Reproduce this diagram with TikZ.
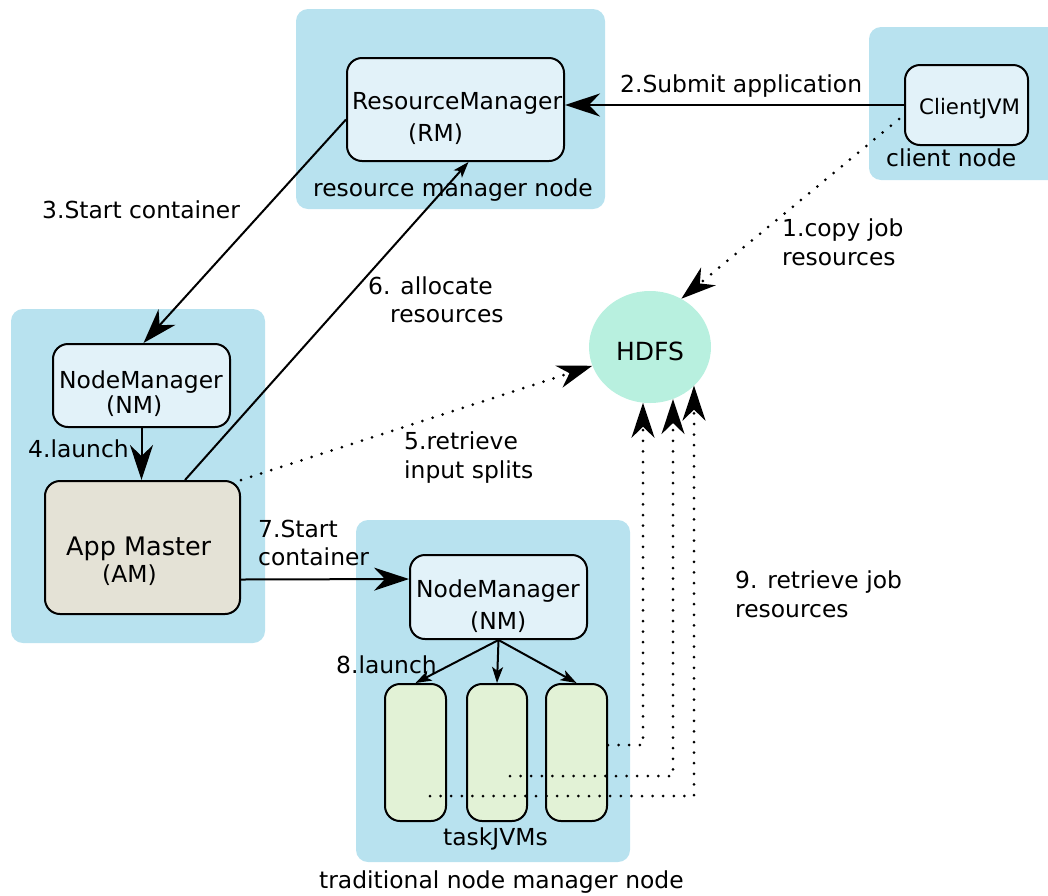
\documentclass[tikz,border=0pt]{standalone}
\usepackage{fontspec}
\setmainfont{DejaVu Sans}
\usetikzlibrary{arrows.meta,shapes.geometric,calc}
\definecolor{zoneblue}{RGB}{184,226,239}
\definecolor{mgrfill}{RGB}{226,242,249}
\definecolor{hdfsfill}{RGB}{184,240,223}
\definecolor{amfill}{RGB}{228,226,214}
\definecolor{taskfill}{RGB}{226,242,214}
\begin{document}
\begin{tikzpicture}[x=1pt,y=-1pt,
  zone/.style={fill=zoneblue, rounded corners=12pt, inner sep=0pt, outer sep=0pt},
  box/.style={draw=black, line width=2pt, rounded corners=15pt, inner sep=0pt, fill=mgrfill},
  lbl/.style={anchor=base west, inner sep=0pt, font=\fontsize{23.4}{29}\selectfont},
  conn/.style={line width=2pt},
  dots/.style={line width=3pt, line cap=round, dash pattern=on 0pt off 10.6pt},
  bighead/.style={-{Stealth[length=35pt,width=23pt,inset=11pt]}},
  smallhead/.style={-{Stealth[length=16pt,width=11pt,inset=4pt]}},
]
\useasboundingbox (0,0) rectangle (1048,895);
\clip (0,0) rectangle (1048,895);

% machine zones
\node[zone, minimum width=309, minimum height=200] (rmzone) at (450.5,109) {};
\node[zone, minimum width=200, minimum height=153] (clientzone) at (969,103.5) {};
\node[zone, minimum width=254, minimum height=334] (leftzone) at (138,476) {};
\node[zone, minimum width=274, minimum height=342] (tradzone) at (493,691) {};

% daemons and JVMs
\node[box, minimum width=217, minimum height=103] (rm) at (455.5,109.5) {};
\node[box, minimum width=123, minimum height=80] (cjvm) at (966.5,105) {};
\node[box, minimum width=177, minimum height=83] (nm1) at (141.5,385.5) {};
\node[box, fill=amfill, minimum width=195, minimum height=133] (am) at (142.5,547.5) {};
\node[box, minimum width=177, minimum height=84] (nm2) at (498.5,597) {};
\node[box, fill=taskfill, minimum width=61, minimum height=137] (t1) at (415.5,752.5) {};
\node[box, fill=taskfill, minimum width=60, minimum height=137] (t2) at (497,752.5) {};
\node[box, fill=taskfill, minimum width=61, minimum height=137] (t3) at (576.5,752.5) {};
\node[ellipse, fill=hdfsfill, inner sep=0pt, minimum width=122, minimum height=112] (hdfs) at (650,347) {};

% control flow
\draw[conn,bighead] (cjvm.west) -- (cjvm.west -| rm.east);
\draw[conn,bighead] ($(rm.west)+(0,10)$) -- ($(nm1.north)+(2,0)$);
\draw[conn,bighead] (nm1.south) -- (nm1.south |- am.north);
\draw[conn,smallhead] ($(am.north)+(42.5,0)$) -- ($(rm.south)+(13,0)$);
\draw[conn,bighead] ($(am.east)+(0,32)$) -- ($(nm2.west)+(0,-18)$);
\draw[conn,smallhead] (nm2.south) -- (t1.north);
\draw[conn,smallhead] (nm2.south) -- (t2.north);
\draw[conn,smallhead] (nm2.south) -- (t3.north);

% data flow with HDFS
\draw[dots,bighead] ($(cjvm.west)+(-5,14)$) -- (hdfs.57);
\draw[dots,bighead] (am.north east) -- (hdfs);
\coordinate (k1) at (643,745);
\coordinate (k2) at (673,776);
\coordinate (k3) at (694,796);
\draw[dots,bighead] (t3.east |- k1) -- (k1) -- (k1 |- hdfs.262);
\draw[dots,bighead] (510,776) -- (k2) -- (k2 |- hdfs.294);
\draw[dots,bighead] (430,796) -- (k3) -- (k3 |- hdfs.319);

% texts
\node[lbl] (trm1) at (352,109) {ResourceManager};
\node[lbl] (trm2) at (408,141) {(RM)};
\node[lbl] (trmz) at (313,196) {resource manager node};
\node[lbl, font=\fontsize{21.3}{26}\selectfont] (tcj) at (919,114) {ClientJVM};
\node[lbl] (tcz) at (886,166) {client node};
\node[lbl] (t2l) at (620,92) {2.Submit application};
\node[lbl] (t3l) at (42,218) {3.Start container};
\node[lbl] (t1a) at (782,236) {1.copy job};
\node[lbl] (t1b) at (782,265) {resources};
\node[lbl] (t6a) at (368,294) {6. allocate};
\node[lbl] (t6b) at (390,322) {resources};
\node[anchor=base, inner sep=0pt, font=\fontsize{25}{30}\selectfont] (thd) at (650,360) {HDFS};
\node[lbl] (tnm1a) at (59,388) {NodeManager};
\node[lbl] (tnm1b) at (106,413) {(NM)};
\node[lbl] (t4l) at (28,457) {4.launch};
\node[lbl] (t5a) at (404,449) {5.retrieve};
\node[lbl] (t5b) at (404,478) {input splits};
\node[lbl, font=\fontsize{25.5}{30}\selectfont] (tama) at (66,555) {App Master};
\node[lbl] (tamb) at (102,582) {(AM)};
\node[lbl] (t7a) at (258,537) {7.Start};
\node[lbl] (t7b) at (258,565) {container};
\node[lbl] (tnm2a) at (416,597) {NodeManager};
\node[lbl] (tnm2b) at (470,629) {(NM)};
\node[lbl] (t9a) at (735,588) {9. retrieve job};
\node[lbl] (t9b) at (735,617) {resources};
\node[lbl] (t8l) at (336,673) {8.launch};
\node[lbl] (ttj) at (443,845) {taskJVMs};
\node[lbl] (ttz) at (319,888) {traditional node manager node};
\end{tikzpicture}
\end{document}
